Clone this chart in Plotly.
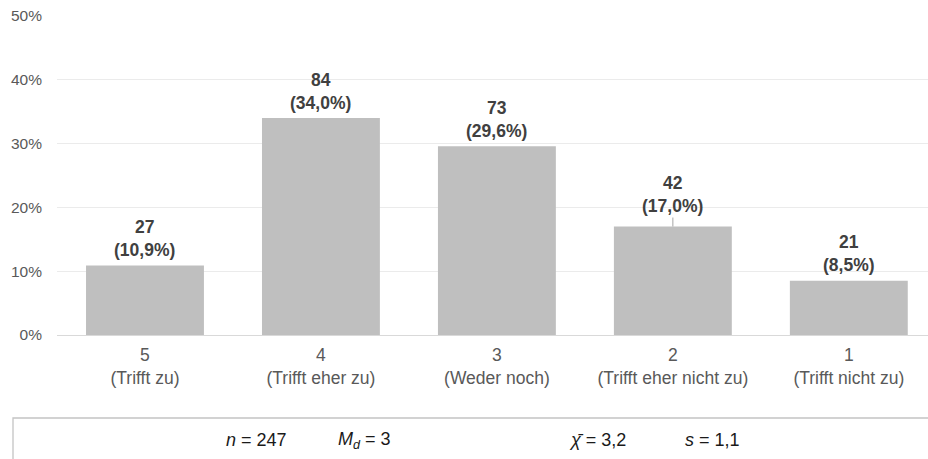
import plotly.graph_objects as go

# Response scale (5 = agree ... 1 = disagree)
codes = ["5", "4", "3", "2", "1"]
labels = ["(Trifft zu)", "(Trifft eher zu)", "(Weder noch)",
          "(Trifft eher nicht zu)", "(Trifft nicht zu)"]
counts = [27, 84, 73, 42, 21]
percents = [10.9, 34.0, 29.6, 17.0, 8.5]

# Summary statistics shown in the box below the chart
stat_n = "247"
stat_md = "3"
stat_mean = "3,2"
stat_sd = "1,1"

FONT = "Arial, Liberation Sans, sans-serif"
W, H = 928, 459
ML, MR, MT, MB = 57, 0, 16, 124
PW, PH = W - ML - MR, H - MT - MB


def px_x(px):
    return (px - ML) / PW


def px_y(py):
    return (H - MB - py) / PH


fig = go.Figure(
    go.Bar(
        x=codes,
        y=percents,
        marker=dict(color="#bfbfbf", line=dict(width=0)),
        hoverinfo="skip",
    )
)

# Value labels: count on the first line, share on the second
for i, (c, p) in enumerate(zip(counts, percents)):
    pct = f"{p:.1f}".replace(".", ",")
    text = f"<b>{c}</b><br><b>({pct}%)</b>"
    lifted = codes[i] == "2"
    fig.add_annotation(
        x=i, y=p, xref="x", yref="y",
        text=text,
        showarrow=True,
        arrowhead=0, arrowwidth=1,
        arrowcolor="#a6a6a6" if lifted else "rgba(0,0,0,0)",
        ax=0, ay=-32 if lifted else -27,
        font=dict(family=FONT, size=17.5, color="#404040"),
        align="center",
    )

# Summary statistics box
fig.add_shape(
    type="rect", xref="paper", yref="paper",
    x0=px_x(13), x1=px_x(960), y0=px_y(418), y1=px_y(500),
    line=dict(color="#c4c4c4", width=1.3), fillcolor="rgba(0,0,0,0)",
    layer="above",
)
stats = [
    (256, f"<i>n</i> = {stat_n}"),
    (364, f"<i>M</i><sub><i>d</i></sub> = {stat_md}"),
    (597, f"<i>χ̄</i> = {stat_mean}"),
    (712, f"<i>s</i> = {stat_sd}"),
]
for xpx, txt in stats:
    fig.add_annotation(
        x=px_x(xpx), y=px_y(440), xref="paper", yref="paper",
        xanchor="center", yanchor="middle", showarrow=False,
        text=txt, font=dict(family=FONT, size=18, color="#1a1a1a"),
    )

fig.update_layout(
    width=W, height=H,
    margin=dict(l=ML, r=MR, t=MT, b=MB, pad=0),
    paper_bgcolor="white", plot_bgcolor="white",
    bargap=0.33,
    showlegend=False,
    font=dict(family=FONT, color="#595959"),
)
fig.update_xaxes(
    type="category",
    range=[-0.5, 4.45],
    tickvals=codes,
    ticktext=[f"{c}<br>{l}" for c, l in zip(codes, labels)],
    tickfont=dict(family=FONT, size=17.5, color="#595959"),
    showgrid=False,
    showline=True, linecolor="#d9d9d9", linewidth=1.3,
    ticks="", ticklabelstandoff=4,
    fixedrange=True,
)
fig.update_yaxes(
    range=[0, 50],
    dtick=10,
    ticksuffix="%",
    tickfont=dict(family=FONT, size=15.5, color="#595959"),
    showgrid=True, gridcolor="#ebebeb", gridwidth=1,
    zeroline=False, showline=False,
    ticks="", ticklabelstandoff=14,
    fixedrange=True,
)

fig.write_html("out.html", config={"displayModeBar": False})
